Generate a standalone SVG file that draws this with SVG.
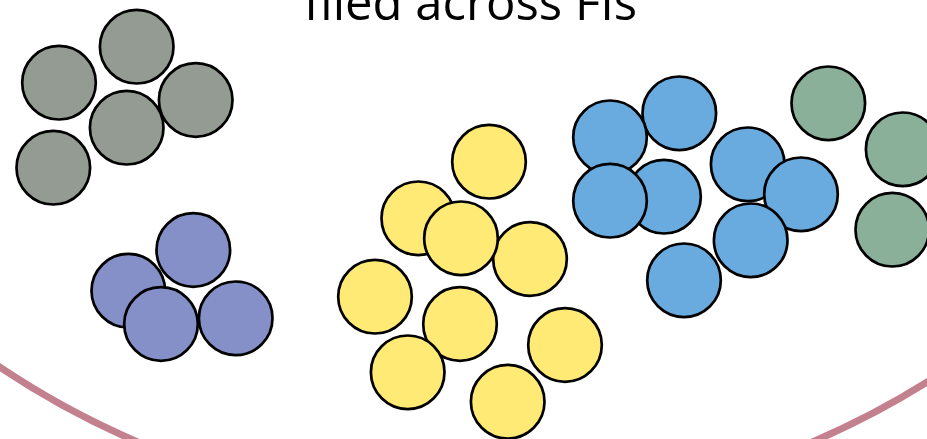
<svg xmlns="http://www.w3.org/2000/svg" width="927" height="439" viewBox="0 0 927 439">
<style>
  .c { stroke:#000; stroke-width:2.7; }
  .gray { fill:#949b93; }
  .purple { fill:#8490c7; }
  .yellow { fill:#feea74; }
  .blue { fill:#6aabdf; }
  .green { fill:#8ab09a; }
  .title { font-family:"Open Sans","Noto Sans",sans-serif; font-size:49px; fill:#000; }
</style>
<rect width="927" height="439" fill="#fff"/>
<circle id="boundary" cx="475" cy="-342" r="853.5" fill="none" stroke="#c3808f" stroke-width="7"/>
<text class="title" x="470.5" y="20" text-anchor="middle">filed across FIs</text>
<g id="gray-group">
  <circle class="c gray" cx="136.7" cy="46.7" r="36.8"/>
  <circle class="c gray" cx="59" cy="82.7" r="36.8"/>
  <circle class="c gray" cx="195.7" cy="100" r="36.8"/>
  <circle class="c gray" cx="126.7" cy="127.7" r="36.8"/>
  <circle class="c gray" cx="53.3" cy="167.7" r="36.8"/>
</g>
<g id="purple-group">
  <circle class="c purple" cx="128.3" cy="290.7" r="36.8"/>
  <circle class="c purple" cx="193.3" cy="250" r="36.8"/>
  <circle class="c purple" cx="235.7" cy="318.3" r="36.8"/>
  <circle class="c purple" cx="161" cy="324" r="36.8"/>
</g>
<g id="yellow-group">
  <circle class="c yellow" cx="489" cy="161.7" r="36.8"/>
  <circle class="c yellow" cx="418.3" cy="218.3" r="36.8"/>
  <circle class="c yellow" cx="530" cy="259" r="36.8"/>
  <circle class="c yellow" cx="461" cy="238.3" r="36.8"/>
  <circle class="c yellow" cx="375" cy="296.7" r="36.8"/>
  <circle class="c yellow" cx="460" cy="324" r="36.8"/>
  <circle class="c yellow" cx="565" cy="345" r="36.8"/>
  <circle class="c yellow" cx="407.7" cy="372.3" r="36.8"/>
  <circle class="c yellow" cx="507.7" cy="401.7" r="36.8"/>
</g>
<g id="blue-group">
  <circle class="c blue" cx="679.3" cy="113.3" r="36.8"/>
  <circle class="c blue" cx="610" cy="137.3" r="36.8"/>
  <circle class="c blue" cx="664" cy="196.7" r="36.8"/>
  <circle class="c blue" cx="610" cy="200.7" r="36.8"/>
  <circle class="c blue" cx="747.7" cy="164.3" r="36.8"/>
  <circle class="c blue" cx="801" cy="194.3" r="36.8"/>
  <circle class="c blue" cx="750.7" cy="240.3" r="36.8"/>
  <circle class="c blue" cx="684" cy="280.3" r="36.8"/>
</g>
<g id="green-group">
  <circle class="c green" cx="828.3" cy="103.3" r="36.8"/>
  <circle class="c green" cx="902.7" cy="149.3" r="36.8"/>
  <circle class="c green" cx="892.3" cy="229.7" r="36.8"/>
</g>
</svg>
